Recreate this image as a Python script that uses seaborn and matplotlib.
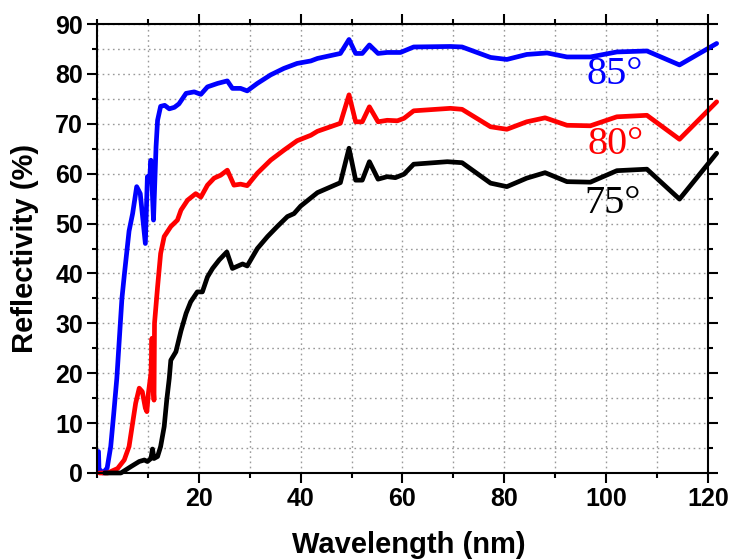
import numpy as np
import pandas as pd
import matplotlib
matplotlib.use('Agg')
import matplotlib.pyplot as plt
import seaborn as sns
from matplotlib.ticker import MultipleLocator, FixedLocator

# reflectivity curves
x_85 = [0.3, 0.4, 1.2, 2.0, 2.7, 3.3, 3.9, 4.4, 4.9, 5.4, 6.3, 7.0, 7.8, 8.5, 9.5, 9.9, 10.3, 10.6,
        11.1, 11.6, 11.9, 12.5, 13.3, 14.2, 15.2, 16.1, 17.5, 19.1, 20.4, 21.7, 23.7, 25.6, 26.6,
        28.2, 29.5, 31.5, 34.1, 36.7, 39.3, 42.0, 43.3, 47.8, 49.5, 50.8, 52.1, 53.5, 55.2, 57.0,
        59.6, 62.2, 69.4, 71.7, 77.3, 80.5, 84.4, 88.4, 92.3, 96.9, 102.1, 108.0, 114.4, 121.7]
r_85 = [4.3, 0.8, 0.0, 1.0, 5.3, 12.0, 19.0, 27.0, 35.0, 40.0, 48.5, 52.0, 57.4, 56.0, 46.0, 59.4,
        58.5, 62.7, 50.7, 65.4, 70.7, 73.5, 73.7, 73.0, 73.3, 74.0, 76.1, 76.4, 75.9, 77.4, 78.1,
        78.6, 77.1, 77.1, 76.6, 78.1, 79.8, 81.1, 82.1, 82.6, 83.1, 84.1, 86.9, 84.1, 84.1, 85.8,
        84.1, 84.3, 84.3, 85.4, 85.5, 85.4, 83.3, 82.9, 83.9, 84.2, 83.4, 83.4, 84.4, 84.6, 81.8, 86.1]

x_80 = [0.5, 2.1, 4.05, 5.35, 6.3, 7.0, 7.6, 8.3, 8.9, 9.5, 9.8, 10.1, 10.6, 10.8, 11.0, 11.2,
        11.3, 11.9, 12.5, 13.2, 14.5, 15.8, 16.5, 17.8, 19.4, 20.4, 21.7, 23.0, 24.3, 25.6, 26.9,
        28.2, 29.5, 31.5, 34.1, 36.7, 39.3, 42.0, 43.3, 47.8, 49.5, 50.8, 52.1, 53.5, 55.2, 57.0,
        59.0, 60.3, 62.2, 69.4, 71.7, 77.3, 80.5, 84.4, 88.0, 92.3, 96.9, 102.1, 108.0, 114.4, 121.7]
r_80 = [0.0, 0.0, 0.9, 2.6, 5.3, 10.0, 14.0, 17.0, 16.3, 13.0, 12.3, 16.0, 20.0, 27.0, 18.0, 14.6,
        30.0, 37.3, 44.0, 47.4, 49.4, 50.7, 52.7, 54.7, 56.0, 55.3, 57.7, 59.1, 59.7, 60.7, 57.7,
        57.9, 57.6, 60.1, 62.7, 64.7, 66.6, 67.7, 68.5, 70.1, 75.8, 70.4, 70.4, 73.4, 70.4, 70.7,
        70.6, 71.1, 72.6, 73.1, 72.9, 69.4, 68.9, 70.4, 71.2, 69.7, 69.6, 71.4, 71.7, 66.9, 74.4]

x_75 = [1.5, 4.7, 6.7, 8.3, 9.3, 9.9, 10.6, 10.9, 11.2, 11.9, 12.5, 13.2, 13.7, 14.2, 14.5, 15.5,
        16.5, 17.5, 18.4, 19.7, 20.7, 21.7, 22.7, 24.0, 25.5, 26.6, 28.6, 29.5, 31.5, 33.5, 35.4,
        37.4, 38.7, 40.0, 43.3, 47.8, 49.5, 50.8, 52.1, 53.5, 55.2, 57.0, 58.6, 60.3, 62.2, 68.8,
        71.7, 77.3, 80.5, 84.4, 88.0, 92.3, 96.9, 102.1, 108.0, 114.4, 121.7]
r_75 = [0.0, 0.0, 1.3, 2.3, 2.6, 2.3, 2.9, 4.8, 2.9, 3.3, 5.3, 9.3, 14.6, 19.0, 22.6, 24.3,
        28.5, 32.0, 34.3, 36.3, 36.3, 39.3, 41.0, 42.7, 44.3, 41.0, 41.9, 41.5, 45.0, 47.4, 49.4,
        51.4, 52.0, 53.5, 56.2, 58.2, 65.1, 58.7, 58.7, 62.4, 58.9, 59.4, 59.2, 59.9, 61.9, 62.4,
        62.2, 58.1, 57.4, 59.1, 60.2, 58.4, 58.3, 60.6, 60.9, 54.9, 64.1]

angles = ['85°', '80°', '75°']
colors = ['#0000ff', '#ff0000', '#000000']
label_x = [101.6, 101.8, 101.2]
label_y = [79.8, 65.8, 54.0]

sns.set_style('ticks')
plt.rcParams['font.family'] = ['Liberation Sans', 'DejaVu Sans']
plt.rcParams['font.weight'] = 'bold'
plt.rcParams['text.color'] = 'black'
plt.rcParams['axes.labelcolor'] = 'black'
plt.rcParams['xtick.color'] = 'black'
plt.rcParams['ytick.color'] = 'black'

fig = plt.figure(figsize=(7.33, 5.6), dpi=100)
ax = fig.add_axes([0.1323, 0.1554, 0.8336, 0.8017])

curves = [(x_85, r_85), (x_80, r_80), (x_75, r_75)]
for (xs, ys), c in zip(curves, colors):
    df = pd.DataFrame({'wl': xs, 'refl': ys})
    sns.lineplot(data=df, x='wl', y='refl', color=c, lw=3.4, sort=False,
                 estimator=None, ax=ax)
for ln in ax.get_lines():
    ln.set_clip_on(False)

for a, c, lx, ly in zip(angles, colors, label_x, label_y):
    ax.text(lx, ly, a, color=c, fontsize=29, family='Liberation Serif',
            fontweight='normal', ha='center', va='center')

ax.set_xlim(0, 120)
ax.set_ylim(0, 90)
ax.xaxis.set_major_locator(FixedLocator([20, 40, 60, 80, 100, 120]))
ax.xaxis.set_minor_locator(FixedLocator([0, 10, 30, 50, 70, 90, 110]))
ax.yaxis.set_major_locator(MultipleLocator(10))
ax.yaxis.set_minor_locator(MultipleLocator(5))
ax.grid(which='both', color='#999999', linestyle=(0, (1.2, 2.5)), lw=1)
ax.set_axisbelow(True)

ax.tick_params(which='both', direction='out', top=True, right=True, width=1.5,
               labelsize=18, color='black', labelcolor='black')
ax.tick_params(which='major', length=7, pad=3)
ax.tick_params(which='minor', length=3.5)
for s in ax.spines.values():
    s.set_linewidth(1.5)
    s.set_visible(True)
    s.set_color('black')

ax.set_xlabel('Wavelength (nm)', fontsize=21, fontweight='bold')
ax.set_ylabel('Reflectivity (%)', fontsize=21, fontweight='bold')
ax.xaxis.set_label_coords(0.51, -0.13)
ax.yaxis.set_label_coords(-0.095, 0.5)

fig.savefig('out.png', dpi=100)
